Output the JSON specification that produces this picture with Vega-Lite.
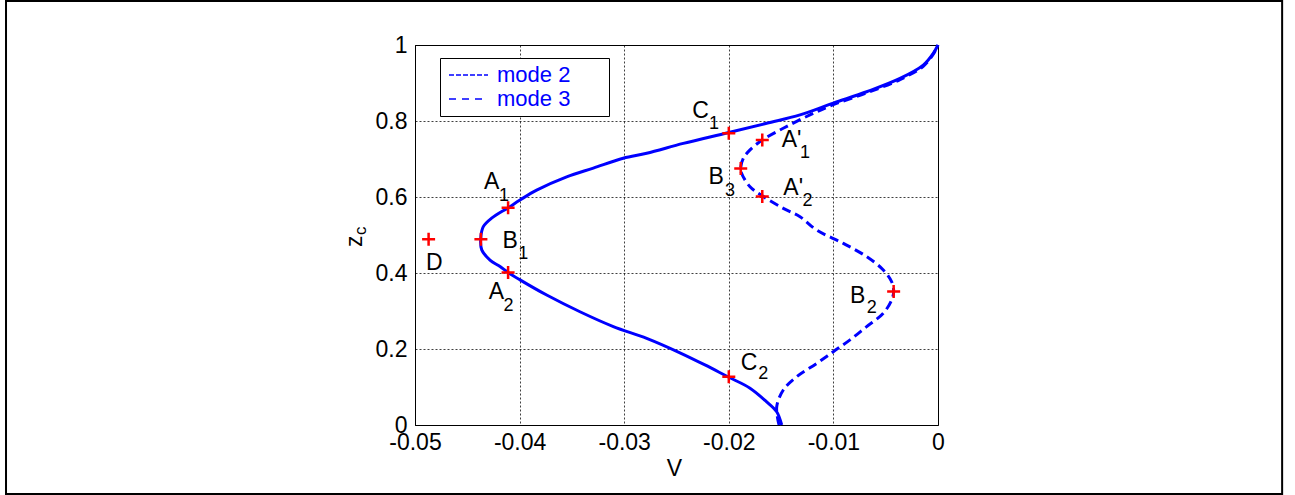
{
  "$schema": "https://vega.github.io/schema/vega-lite/v6.json",
  "width": 523,
  "height": 380,
  "autosize": {"type": "none"},
  "padding": {"left": 415, "top": 45, "right": 357, "bottom": 70},
  "background": "white",
  "config": {
    "font": "Liberation Sans",
    "view": {"stroke": "#000", "strokeWidth": 1},
    "axis": {
      "labelFont": "Liberation Sans",
      "labelFontSize": 23,
      "labelColor": "#000",
      "titleFont": "Liberation Sans",
      "titleFontSize": 23,
      "titleFontWeight": "normal",
      "titleColor": "#000",
      "ticks": false,
      "domainColor": "#000",
      "domainWidth": 1,
      "grid": true,
      "gridColor": "#000",
      "gridDash": [2, 2],
      "gridOpacity": 0.75,
      "gridWidth": 1,
      "labelFlush": false,
      "labelOverlap": false
    }
  },
  "datasets": {
    "curves": [
      {"mode": "mode 2", "V": -0.01494, "z": 0.0},
      {"mode": "mode 2", "V": -0.01542, "z": 0.035},
      {"mode": "mode 2", "V": -0.01638, "z": 0.061},
      {"mode": "mode 2", "V": -0.01797, "z": 0.097},
      {"mode": "mode 2", "V": -0.0201, "z": 0.127},
      {"mode": "mode 2", "V": -0.02228, "z": 0.158},
      {"mode": "mode 2", "V": -0.02467, "z": 0.19},
      {"mode": "mode 2", "V": -0.02785, "z": 0.228},
      {"mode": "mode 2", "V": -0.03104, "z": 0.259},
      {"mode": "mode 2", "V": -0.03423, "z": 0.298},
      {"mode": "mode 2", "V": -0.03741, "z": 0.342},
      {"mode": "mode 2", "V": -0.03996, "z": 0.382},
      {"mode": "mode 2", "V": -0.04108, "z": 0.401},
      {"mode": "mode 2", "V": -0.04187, "z": 0.417},
      {"mode": "mode 2", "V": -0.04283, "z": 0.434},
      {"mode": "mode 2", "V": -0.04362, "z": 0.461},
      {"mode": "mode 2", "V": -0.04372, "z": 0.489},
      {"mode": "mode 2", "V": -0.04347, "z": 0.522},
      {"mode": "mode 2", "V": -0.04264, "z": 0.545},
      {"mode": "mode 2", "V": -0.04108, "z": 0.572},
      {"mode": "mode 2", "V": -0.03996, "z": 0.592},
      {"mode": "mode 2", "V": -0.03837, "z": 0.618},
      {"mode": "mode 2", "V": -0.0355, "z": 0.653},
      {"mode": "mode 2", "V": -0.03295, "z": 0.676},
      {"mode": "mode 2", "V": -0.03009, "z": 0.702},
      {"mode": "mode 2", "V": -0.02785, "z": 0.715},
      {"mode": "mode 2", "V": -0.02435, "z": 0.741},
      {"mode": "mode 2", "V": -0.0201, "z": 0.769},
      {"mode": "mode 2", "V": -0.01638, "z": 0.794},
      {"mode": "mode 2", "V": -0.01319, "z": 0.816},
      {"mode": "mode 2", "V": -0.01001, "z": 0.847},
      {"mode": "mode 2", "V": -0.00682, "z": 0.877},
      {"mode": "mode 2", "V": -0.00363, "z": 0.912},
      {"mode": "mode 2", "V": -0.00141, "z": 0.947},
      {"mode": "mode 2", "V": -0.00045, "z": 0.978},
      {"mode": "mode 2", "V": 0.0, "z": 1.0},
      {"mode": "mode 3", "V": -0.0152, "z": 0.0},
      {"mode": "mode 3", "V": -0.01542, "z": 0.048},
      {"mode": "mode 3", "V": -0.01479, "z": 0.092},
      {"mode": "mode 3", "V": -0.01351, "z": 0.127},
      {"mode": "mode 3", "V": -0.0116, "z": 0.162},
      {"mode": "mode 3", "V": -0.01001, "z": 0.193},
      {"mode": "mode 3", "V": -0.00841, "z": 0.224},
      {"mode": "mode 3", "V": -0.00682, "z": 0.259},
      {"mode": "mode 3", "V": -0.00523, "z": 0.294},
      {"mode": "mode 3", "V": -0.00443, "z": 0.329},
      {"mode": "mode 3", "V": -0.00424, "z": 0.351},
      {"mode": "mode 3", "V": -0.00443, "z": 0.377},
      {"mode": "mode 3", "V": -0.00523, "z": 0.408},
      {"mode": "mode 3", "V": -0.00682, "z": 0.443},
      {"mode": "mode 3", "V": -0.00905, "z": 0.478},
      {"mode": "mode 3", "V": -0.0116, "z": 0.513},
      {"mode": "mode 3", "V": -0.01319, "z": 0.548},
      {"mode": "mode 3", "V": -0.01479, "z": 0.57},
      {"mode": "mode 3", "V": -0.0168, "z": 0.603},
      {"mode": "mode 3", "V": -0.01797, "z": 0.627},
      {"mode": "mode 3", "V": -0.01877, "z": 0.662},
      {"mode": "mode 3", "V": -0.01886, "z": 0.676},
      {"mode": "mode 3", "V": -0.01861, "z": 0.702},
      {"mode": "mode 3", "V": -0.01797, "z": 0.724},
      {"mode": "mode 3", "V": -0.0168, "z": 0.75},
      {"mode": "mode 3", "V": -0.01479, "z": 0.781},
      {"mode": "mode 3", "V": -0.01224, "z": 0.816},
      {"mode": "mode 3", "V": -0.01001, "z": 0.843},
      {"mode": "mode 3", "V": -0.00682, "z": 0.874},
      {"mode": "mode 3", "V": -0.00363, "z": 0.909},
      {"mode": "mode 3", "V": -0.00141, "z": 0.944},
      {"mode": "mode 3", "V": -0.00045, "z": 0.976},
      {"mode": "mode 3", "V": 0.0, "z": 1.0}
    ],
    "markers": [
      {"name": "C1", "V": -0.02, "z": 0.768},
      {"name": "C2", "V": -0.02, "z": 0.127},
      {"name": "A1", "V": -0.0411, "z": 0.572},
      {"name": "A2", "V": -0.0411, "z": 0.401},
      {"name": "B1", "V": -0.0437, "z": 0.489},
      {"name": "D", "V": -0.0487, "z": 0.489},
      {"name": "B2", "V": -0.00424, "z": 0.351},
      {"name": "A'1", "V": -0.0168, "z": 0.75},
      {"name": "B3", "V": -0.01886, "z": 0.675},
      {"name": "A'2", "V": -0.0168, "z": 0.601}
    ],
    "letters": [
      {"t": "C", "V": -0.02349, "z": 0.8263},
      {"t": "A'", "V": -0.01494, "z": 0.7487},
      {"t": "B", "V": -0.02194, "z": 0.6526},
      {"t": "A'", "V": -0.01479, "z": 0.6237},
      {"t": "A", "V": -0.0434, "z": 0.6382},
      {"t": "B", "V": -0.04163, "z": 0.4834},
      {"t": "D", "V": -0.04895, "z": 0.4268},
      {"t": "A", "V": -0.04295, "z": 0.3487},
      {"t": "B", "V": -0.00841, "z": 0.34},
      {"t": "C", "V": -0.01886, "z": 0.1624}
    ],
    "subs": [
      {"t": "1", "V": -0.02142, "z": 0.7921},
      {"t": "1", "V": -0.01272, "z": 0.7158},
      {"t": "3", "V": -0.01989, "z": 0.6145},
      {"t": "2", "V": -0.01248, "z": 0.5895},
      {"t": "1", "V": -0.04149, "z": 0.6026},
      {"t": "1", "V": -0.03965, "z": 0.45},
      {"t": "2", "V": -0.04105, "z": 0.3125},
      {"t": "2", "V": -0.00634, "z": 0.3071},
      {"t": "2", "V": -0.0167, "z": 0.1337}
    ],
    "ysub": [
      {"t": "c", "V": -0.05516, "z": 0.5113}
    ]
  },
  "layer": [
    {
      "data": {"name": "curves"},
      "transform": [{"filter": "datum.z == 1"}],
      "mark": {"type": "line", "color": "#0000ff", "strokeWidth": 1.7, "clip": false},
      "encoding": {
        "x": {
          "field": "V", "type": "quantitative",
          "scale": {"domain": [-0.05, 0], "nice": false, "zero": false},
          "axis": {
            "values": [-0.05, -0.04, -0.03, -0.02, -0.01, 0],
            "labelExpr": "datum.value == 0 ? '0' : '-' + format(abs(datum.value), '.2f')",
            "labelPadding": 6,
            "title": "V",
            "titleX": 259,
            "titleY": 43,
            "titleBaseline": "middle",
            "titleAlign": "center"
          }
        },
        "y": {
          "field": "z", "type": "quantitative",
          "scale": {"domain": [0, 1], "nice": false, "zero": false},
          "axis": {
            "values": [0, 0.2, 0.4, 0.6, 0.8, 1],
            "labelExpr": "format(datum.value, '.1~f')",
            "labelPadding": 8,
            "title": "z",
            "titleAngle": 270,
            "titleX": -61,
            "titleY": 195.7,
            "titleBaseline": "middle",
            "titleAlign": "center"
          }
        },
        "strokeDash": {
          "field": "mode", "type": "nominal",
          "scale": {"domain": ["mode 2", "mode 3"], "range": [[5, 2], [7, 6]]},
          "legend": {
            "title": null,
            "orient": "none",
            "legendX": 25,
            "legendY": 13,
            "direction": "vertical",
            "strokeColor": "#000",
            "fillColor": "#fff",
            "padding": 6,
            "rowPadding": 2,
            "clipHeight": 22,
            "labelFont": "Liberation Sans",
            "labelFontSize": 22,
            "labelColor": "#0000ff",
            "labelOffset": 8,
            "symbolOffset": 2,
            "labelExpr": "datum.label + '\u2800\u2800'",
            "symbolType": "stroke",
            "symbolSize": 1521,
            "symbolStrokeColor": "#0000ff",
            "symbolStrokeWidth": 1.7
          }
        }
      }
    },
    {
      "data": {"name": "curves"},
      "transform": [{"filter": "datum.mode == 'mode 2'"}],
      "mark": {"type": "line", "color": "#0000ff", "strokeWidth": 3, "interpolate": "catmull-rom", "clip": false},
      "encoding": {
        "x": {"field": "V", "type": "quantitative"},
        "y": {"field": "z", "type": "quantitative"},
        "order": {"field": "z", "type": "quantitative"}
      }
    },
    {
      "data": {"name": "curves"},
      "transform": [{"filter": "datum.mode == 'mode 3'"}],
      "mark": {"type": "line", "color": "#0000ff", "strokeWidth": 3, "strokeDash": [9, 5], "interpolate": "catmull-rom", "clip": false},
      "encoding": {
        "x": {"field": "V", "type": "quantitative"},
        "y": {"field": "z", "type": "quantitative"},
        "order": {"field": "z", "type": "quantitative"}
      }
    },
    {
      "data": {"name": "markers"},
      "mark": {"type": "point", "shape": "M-1,0H1M0,-1V1", "size": 169, "filled": false, "stroke": "#ff0000", "color": "#ff0000", "strokeWidth": 2.5, "opacity": 1},
      "encoding": {
        "x": {"field": "V", "type": "quantitative"},
        "y": {"field": "z", "type": "quantitative"}
      }
    },
    {
      "data": {"name": "letters"},
      "mark": {"type": "text", "align": "left", "baseline": "middle", "fontSize": 23, "font": "Liberation Sans", "color": "#000"},
      "encoding": {
        "x": {"field": "V", "type": "quantitative"},
        "y": {"field": "z", "type": "quantitative"},
        "text": {"field": "t"}
      }
    },
    {
      "data": {"name": "subs"},
      "mark": {"type": "text", "align": "center", "baseline": "middle", "fontSize": 18, "font": "Liberation Sans", "color": "#000"},
      "encoding": {
        "x": {"field": "V", "type": "quantitative"},
        "y": {"field": "z", "type": "quantitative"},
        "text": {"field": "t"}
      }
    },
    {
      "data": {"name": "ysub"},
      "mark": {"type": "text", "align": "center", "baseline": "middle", "fontSize": 17, "font": "Liberation Sans", "color": "#000", "angle": 270, "clip": false},
      "encoding": {
        "x": {"field": "V", "type": "quantitative"},
        "y": {"field": "z", "type": "quantitative"},
        "text": {"field": "t"}
      }
    },
    {
      "data": {"values": [{}]},
      "mark": {"type": "rect", "fillOpacity": 0, "stroke": "#000", "strokeWidth": 2, "clip": false},
      "encoding": {
        "x": {"datum": -0.0891, "type": "quantitative"},
        "x2": {"datum": 0.0329},
        "y": {"datum": -0.1816, "type": "quantitative"},
        "y2": {"datum": 1.1158}
      }
    }
  ]
}
